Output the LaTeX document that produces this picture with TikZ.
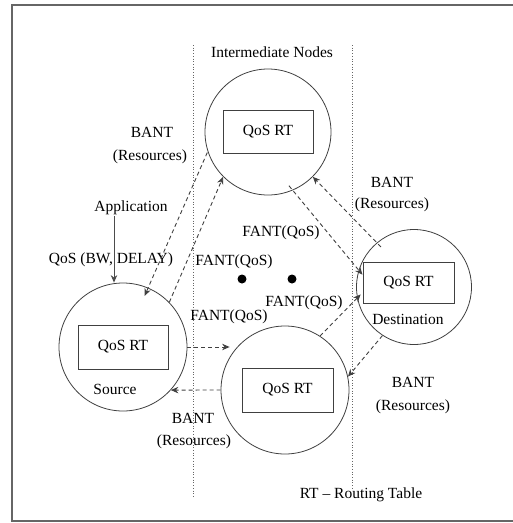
\documentclass[tikz,border=0pt]{standalone}
\usepackage{fontspec}
\setmainfont{Liberation Serif}
\usetikzlibrary{arrows.meta,calc}
\begin{document}
\begin{tikzpicture}[x=1pt,y=-1pt,
  lbl/.style={inner sep=0pt,font=\fontsize{15.5}{17}\selectfont,text=black},
  peer/.style={circle,draw=black!75,line width=0.8pt,inner sep=0pt},
  rtbox/.style={rectangle,draw=black!75,line width=0.8pt,inner sep=0pt,font=\fontsize{15.5}{17}\selectfont,text=black},
  dlink/.style={draw=black!75,line width=0.9pt,dash pattern=on 4pt off 3pt,-{Stealth[length=7.5pt,width=6.5pt]}},
  slink/.style={draw=black!70,line width=0.9pt,-{Stealth[length=7.5pt,width=6.5pt]}},
  sep/.style={draw=black!60,line width=0.7pt,dotted},
  framel/.style={draw=black!60,line width=2pt}]
\useasboundingbox (0,0) rectangle (513,523);
% frame
\draw[framel] (513,5) -- (12,5) -- (12,521) -- (513,521);
% separators
\draw[sep] (193,45) -- (193,498);
\draw[sep] (352,45) -- (352,490);
% circles
\node[peer,minimum size=126pt] (top) at (268,132) {};
\node[peer,minimum size=128pt] (source) at (123,347) {};
\node[peer,minimum size=128pt] (bottom) at (285,390) {};
\node[peer,minimum size=115pt] (dest) at (414,287) {};
% routing tables
\node[rtbox,minimum width=90pt,minimum height=43pt] (toprt) at (268,131.5) {QoS RT};
\node[rtbox,minimum width=90pt,minimum height=44pt] (sourcert) at (123,347) {QoS RT};
\node[rtbox,minimum width=91pt,minimum height=44pt] (bottomrt) at (287.5,390) {QoS RT};
\node[rtbox,minimum width=91pt,minimum height=41pt] (destrt) at (408.5,282.5) {QoS RT};
% labels
\node[lbl] (inter) at (272,52) {Intermediate Nodes};
\node[lbl] (bant1) at (152,132) {BANT};
\node[lbl] (res1) at (150,157) {(Resources)};
\node[lbl] (bant2) at (392,182) {BANT};
\node[lbl] (res2) at (392,205) {(Resources)};
\node[lbl] (app) at (131,208) {Application};
\node[lbl] (qos) at (111,260) {QoS (BW, DELAY)};
\node[lbl] (fant1) at (281,233) {FANT(QoS)};
\node[lbl] (fant2) at (234,262) {FANT(QoS)};
\node[lbl] (fant3) at (229,317) {FANT(QoS)};
\node[lbl] (fant4) at (304,303) {FANT(QoS)};
\node[lbl] (bant3) at (193,418) {BANT};
\node[lbl] (res3) at (194,442) {(Resources)};
\node[lbl] (bant4) at (413,382) {BANT};
\node[lbl] (res4) at (413,407) {(Resources)};
\node[lbl] (rtleg) at (361,495) {RT -- Routing Table};
\node[lbl] (srclbl) at (115,389) {Source};
\node[lbl] (dstlbl) at (408,319) {Destination};
% dots
\fill[black] (242,279) circle (4.5pt);
\fill[black] (292,279) circle (4.5pt);
% application arrow
\coordinate (appfoot) at (114,216);
\draw[slink] (appfoot) -- (appfoot |- source.north);
% BANT top -> source
\draw[dlink,shorten >=-9pt,shorten <=1pt] (top.198) -- (source.67);
% FANT source -> top
\draw[dlink] (source.44) -- (top.225);
% FANT top -> dest
\draw[dlink,shorten <=-6pt,shorten >=-6pt] (top.293) -- (dest.163);
% BANT dest -> top
\draw[dlink,shorten <=-6pt] (dest.130) -- (top.315);
% FANT source -> bottom
\draw[dlink,shorten >=-9pt] (source.east) -- (bottom.west |- source.east);
% BANT bottom -> source
\draw[dlink] (bottom.west) -- (source.318);
% FANT bottom -> dest
\draw[dlink,shorten >=-5pt] (bottom.57) -- (dest.191);
% BANT dest -> bottom
\draw[dlink] (dest.237) -- (bottom.12);
\end{tikzpicture}
\end{document}
